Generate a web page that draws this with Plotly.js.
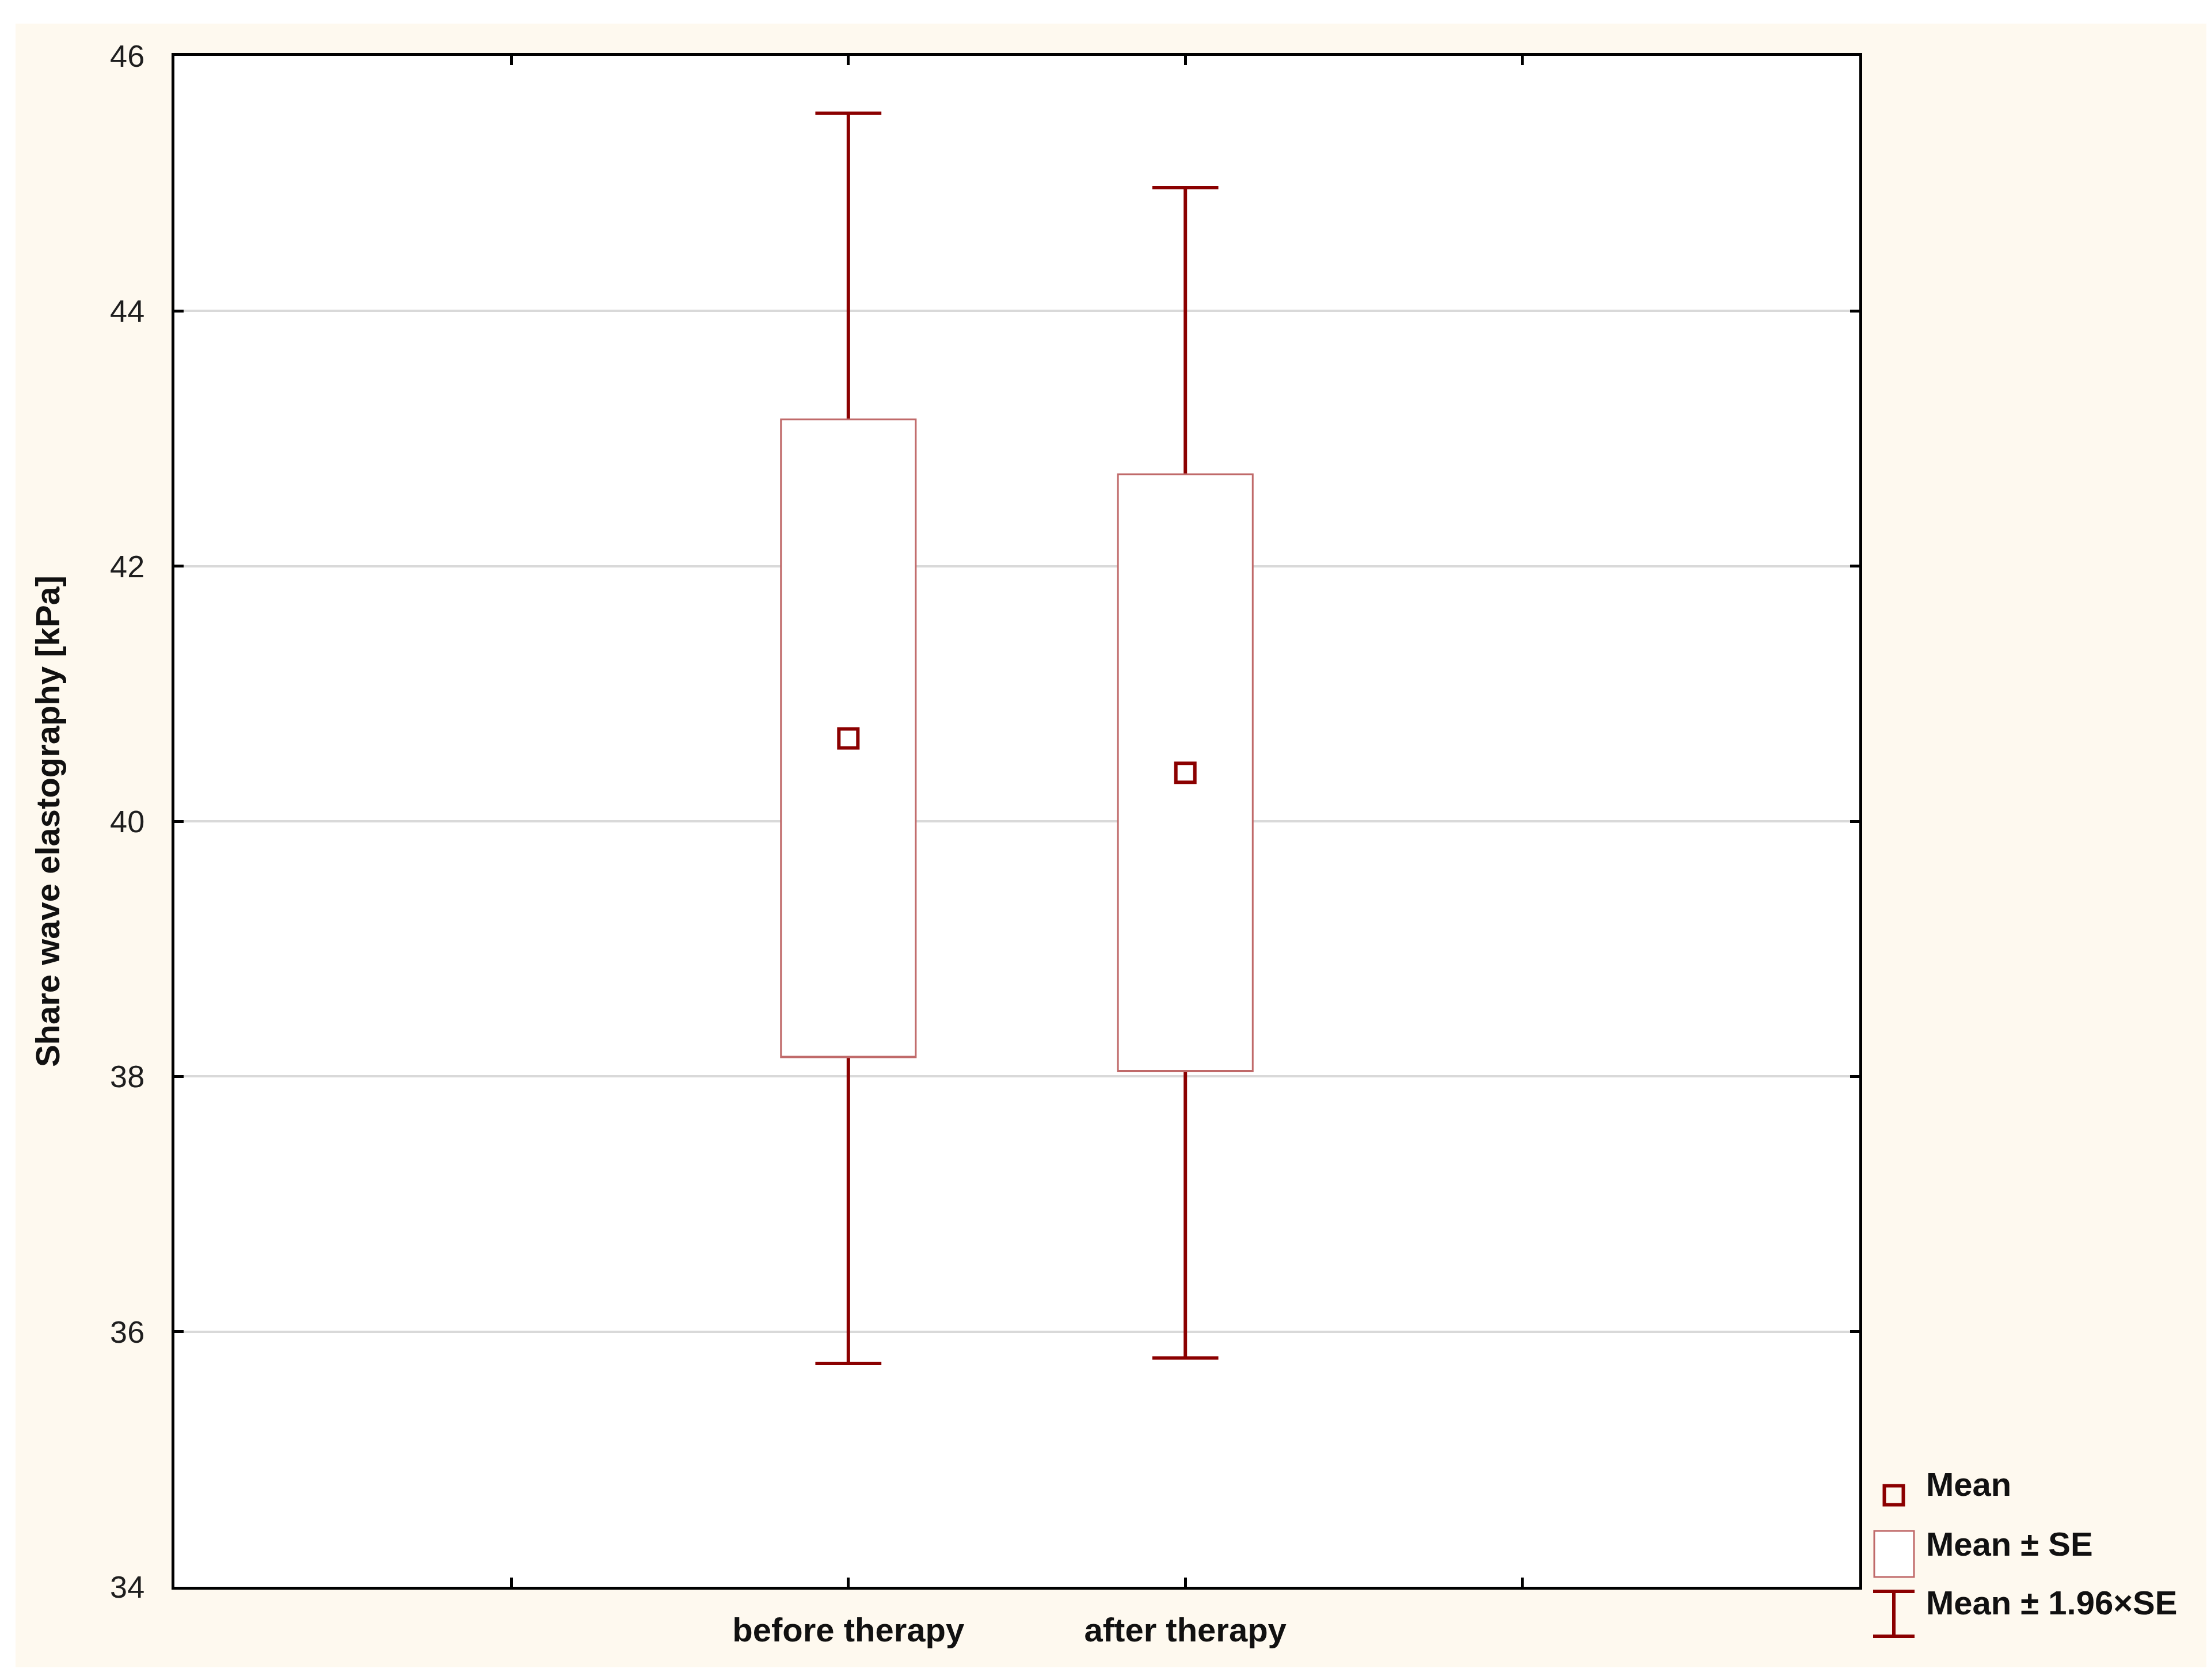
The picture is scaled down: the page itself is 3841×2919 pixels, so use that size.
<!DOCTYPE html>
<html>
<head>
<meta charset="utf-8">
<script src="https://cdn.plot.ly/plotly-3.0.1.min.js"></script>
<style>
  html, body { margin: 0; padding: 0; background: #ffffff; width: 3841px; height: 2919px; overflow: hidden; }
  #chart { position: absolute; left: 27px; top: 41px; width: 3806px; height: 2856px; }
</style>
</head>
<body>
<div id="chart"></div>
<script>
// ---- data ----
var categories = ['before therapy', 'after therapy'];
var meanValues = [40.65, 40.38];
var seValues = [2.50, 2.34];
var ciFactor = 1.96;
var axisCategories = [' ', 'before therapy', 'after therapy', '  '];
var yTickValues = [34, 36, 38, 40, 42, 44, 46];
var yRange = [34, 46];
var legendLabels = ['Mean', 'Mean \u00B1 SE', 'Mean \u00B1 1.96\u00D7SE'];
var yTitle = 'Share wave elastography [kPa]';

// ---- derived statistics ----
var seLow = meanValues.map(function (m, i) { return m - seValues[i]; });
var seHigh = meanValues.map(function (m, i) { return m + seValues[i]; });
var ciLow = meanValues.map(function (m, i) { return m - ciFactor * seValues[i]; });
var ciHigh = meanValues.map(function (m, i) { return m + ciFactor * seValues[i]; });

// ---- style ----
var DARKRED = '#8b0000';
var BOXRED = '#c06a6a';
var CREAM = '#fef9ef';
var FONT = 'Liberation Sans, Arial, sans-serif';

var L = 276, T = 56, W = 2927, H = 2660;
var DIVX = 27, DIVY = 41;
function fx(X) { return (X - DIVX - L) / W; }
function fy(Y) { return 1 - (Y - DIVY - T) / H; }

var whiskerTrace = {
  type: 'box', x: categories,
  q1: meanValues, median: meanValues, q3: meanValues,
  lowerfence: ciLow, upperfence: ciHigh,
  width: 0.4, whiskerwidth: 0.49,
  line: { color: DARKRED, width: 6 },
  fillcolor: 'rgba(0,0,0,0)',
  hoverinfo: 'skip', showlegend: false
};
var seBoxTrace = {
  type: 'box', x: categories,
  q1: seLow, median: seLow, q3: seHigh,
  lowerfence: seLow, upperfence: seHigh,
  width: 0.4, whiskerwidth: 0,
  line: { color: BOXRED, width: 3 },
  fillcolor: '#ffffff',
  hoverinfo: 'skip', showlegend: false
};
var meanTrace = {
  type: 'scatter', mode: 'markers', x: categories, y: meanValues,
  marker: { symbol: 'square-open', size: 33, color: DARKRED, line: { width: 6, color: DARKRED } },
  showlegend: false, cliponaxis: false
};

// ---- legend built from shapes + text ----
var lx = 3290;
var shapes = [
  { type: 'rect', xref: 'paper', yref: 'paper', x0: fx(lx - 16.5), x1: fx(lx + 16.5), y0: fy(2598 + 16.5), y1: fy(2598 - 16.5),
    line: { color: DARKRED, width: 6 }, fillcolor: 'rgba(0,0,0,0)' },
  { type: 'rect', xref: 'paper', yref: 'paper', x0: fx(3256), x1: fx(3325), y0: fy(2740), y1: fy(2660),
    line: { color: BOXRED, width: 3 }, fillcolor: '#ffffff' },
  { type: 'line', xref: 'paper', yref: 'paper', x0: fx(lx), x1: fx(lx), y0: fy(2765), y1: fy(2843),
    line: { color: DARKRED, width: 6 } },
  { type: 'line', xref: 'paper', yref: 'paper', x0: fx(3254), x1: fx(3326), y0: fy(2765), y1: fy(2765),
    line: { color: DARKRED, width: 6 } },
  { type: 'line', xref: 'paper', yref: 'paper', x0: fx(3254), x1: fx(3326), y0: fy(2843), y1: fy(2843),
    line: { color: DARKRED, width: 6 } }
];
var legendY = [2578, 2682, 2784];
var annotations = legendLabels.map(function (t, i) {
  return { text: t, xref: 'paper', yref: 'paper', x: fx(3344), y: fy(legendY[i]),
    xanchor: 'left', yanchor: 'middle', showarrow: false,
    font: { family: FONT, size: 58, color: '#111111', weight: 'bold' } };
});

var layout = {
  width: 3806, height: 2856,
  margin: { l: L, r: 3806 - L - W, t: T, b: 2856 - T - H, pad: 0 },
  paper_bgcolor: CREAM,
  plot_bgcolor: '#ffffff',
  showlegend: false,
  boxmode: 'overlay',
  xaxis: {
    type: 'category',
    categoryorder: 'array', categoryarray: axisCategories,
    range: [-1, 4],
    showgrid: false, zeroline: false,
    showline: true, linecolor: '#000000', linewidth: 5, mirror: 'ticks',
    ticks: 'inside', ticklen: 16, tickwidth: 5, tickcolor: '#000000',
    tickfont: { family: FONT, size: 58, color: '#111111', weight: 'bold' },
    ticklabelstandoff: 20,
    fixedrange: true
  },
  yaxis: {
    range: yRange,
    tickmode: 'array', tickvals: yTickValues,
    showgrid: true, gridcolor: '#d9d9d9', gridwidth: 4,
    zeroline: false,
    showline: true, linecolor: '#000000', linewidth: 5, mirror: 'ticks',
    ticks: 'inside', ticklen: 16, tickwidth: 5, tickcolor: '#000000',
    tickfont: { family: FONT, size: 54, color: '#1e1e1e' },
    ticklabelstandoff: 36,
    title: { text: yTitle, font: { family: FONT, size: 58, color: '#111111', weight: 'bold' }, standoff: 70 },
    fixedrange: true
  },
  shapes: shapes,
  annotations: annotations
};

Plotly.newPlot('chart', [whiskerTrace, seBoxTrace, meanTrace], layout, { displayModeBar: false, staticPlot: true });
</script>
</body>
</html>
